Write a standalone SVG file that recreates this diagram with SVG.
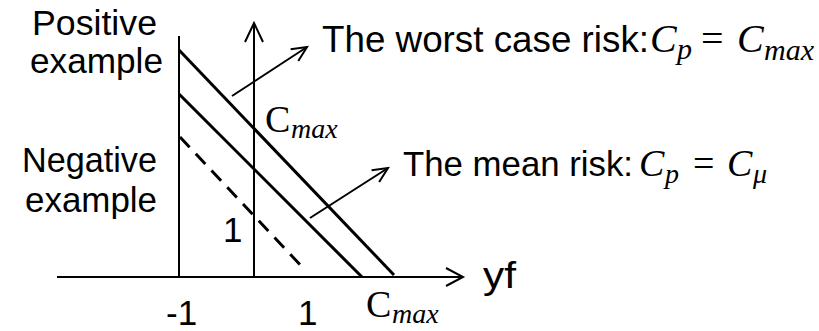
<svg xmlns="http://www.w3.org/2000/svg" width="819" height="331" viewBox="0 0 819 331">
<style>
.t{font-family:"Liberation Sans",Arial,sans-serif;font-size:35px;fill:#000}
.m{font-family:"Liberation Serif","Times New Roman",serif;font-style:italic;fill:#000}
.u{font-family:"Liberation Serif","Times New Roman",serif;fill:#000}
.ax{stroke:#000;stroke-width:2;fill:none}
.ln{stroke:#000;stroke-width:3;fill:none}
</style>
<defs>
<marker id="ah" markerUnits="userSpaceOnUse" markerWidth="20" markerHeight="20" viewBox="-16 -10 20 20" refX="0" refY="0" orient="auto">
<path d="M-15,-7 L0,0 L-15,7" stroke="#000" stroke-width="2" fill="none"/>
</marker>
</defs>
<rect width="819" height="331" fill="#fff"/>
<g id="connectors">
<line class="ax" x1="179" y1="36" x2="179" y2="276"/>
<line class="ax" x1="254" y1="277" x2="254" y2="23"/>
<polyline class="ax" points="245,42 254,23 263,42"/>
<line class="ax" x1="57" y1="277" x2="462" y2="277"/>
<polyline class="ax" points="446,268 463,277 446,286"/>
<line class="ln" x1="179" y1="50" x2="394" y2="275"/>
<line class="ln" x1="179" y1="94" x2="362" y2="277"/>
<line class="ln" x1="180" y1="137" x2="305" y2="270" stroke-dasharray="14 9"/>
<line class="ax" x1="232" y1="96" x2="307" y2="47" marker-end="url(#ah)"/>
<line class="ax" x1="310" y1="218" x2="388" y2="168" marker-end="url(#ah)"/>
</g>
<g id="label-positive">
<text class="t" x="32" y="35" textLength="125" lengthAdjust="spacingAndGlyphs">Positive</text>
<text class="t" x="30" y="73" textLength="133" lengthAdjust="spacingAndGlyphs">example</text>
</g>
<g id="label-negative">
<text class="t" x="22" y="172" textLength="135" lengthAdjust="spacingAndGlyphs">Negative</text>
<text class="t" x="25" y="212" textLength="132" lengthAdjust="spacingAndGlyphs">example</text>
</g>
<g id="label-worst">
<text class="t" x="322" y="52" textLength="327" lengthAdjust="spacingAndGlyphs" style="font-size:36px">The worst case risk:</text>
<text class="m" x="650" y="52" font-size="40">C</text>
<text class="m" x="677" y="59" font-size="30">p</text>
<text class="u" x="701" y="52" font-size="40">=</text>
<text class="m" x="737" y="52" font-size="40">C</text>
<text class="m" x="764" y="60" font-size="30">max</text>
</g>
<g id="label-mean">
<text class="t" x="403" y="176" textLength="230" lengthAdjust="spacingAndGlyphs">The mean risk:</text>
<text class="m" x="639" y="176" font-size="38">C</text>
<text class="m" x="665" y="183" font-size="28">p</text>
<text class="u" x="693" y="176" font-size="38">=</text>
<text class="m" x="727" y="176" font-size="38">C</text>
<text class="m" x="753" y="183" font-size="28">μ</text>
</g>
<g id="label-cmax-top">
<text class="u" x="265" y="132" font-size="38">C</text>
<text class="m" x="291" y="138" font-size="28">max</text>
</g>
<g id="label-one-axis">
<text class="t" x="223" y="242">1</text>
</g>
<g id="label-xticks">
<text class="t" x="166" y="325">-1</text>
<text class="t" x="298" y="325">1</text>
<text class="u" x="366" y="317" font-size="38">C</text>
<text class="m" x="392" y="323" font-size="28">max</text>
<text class="t" x="483" y="288" textLength="33" lengthAdjust="spacingAndGlyphs" style="font-size:36px">yf</text>
</g>
</svg>
